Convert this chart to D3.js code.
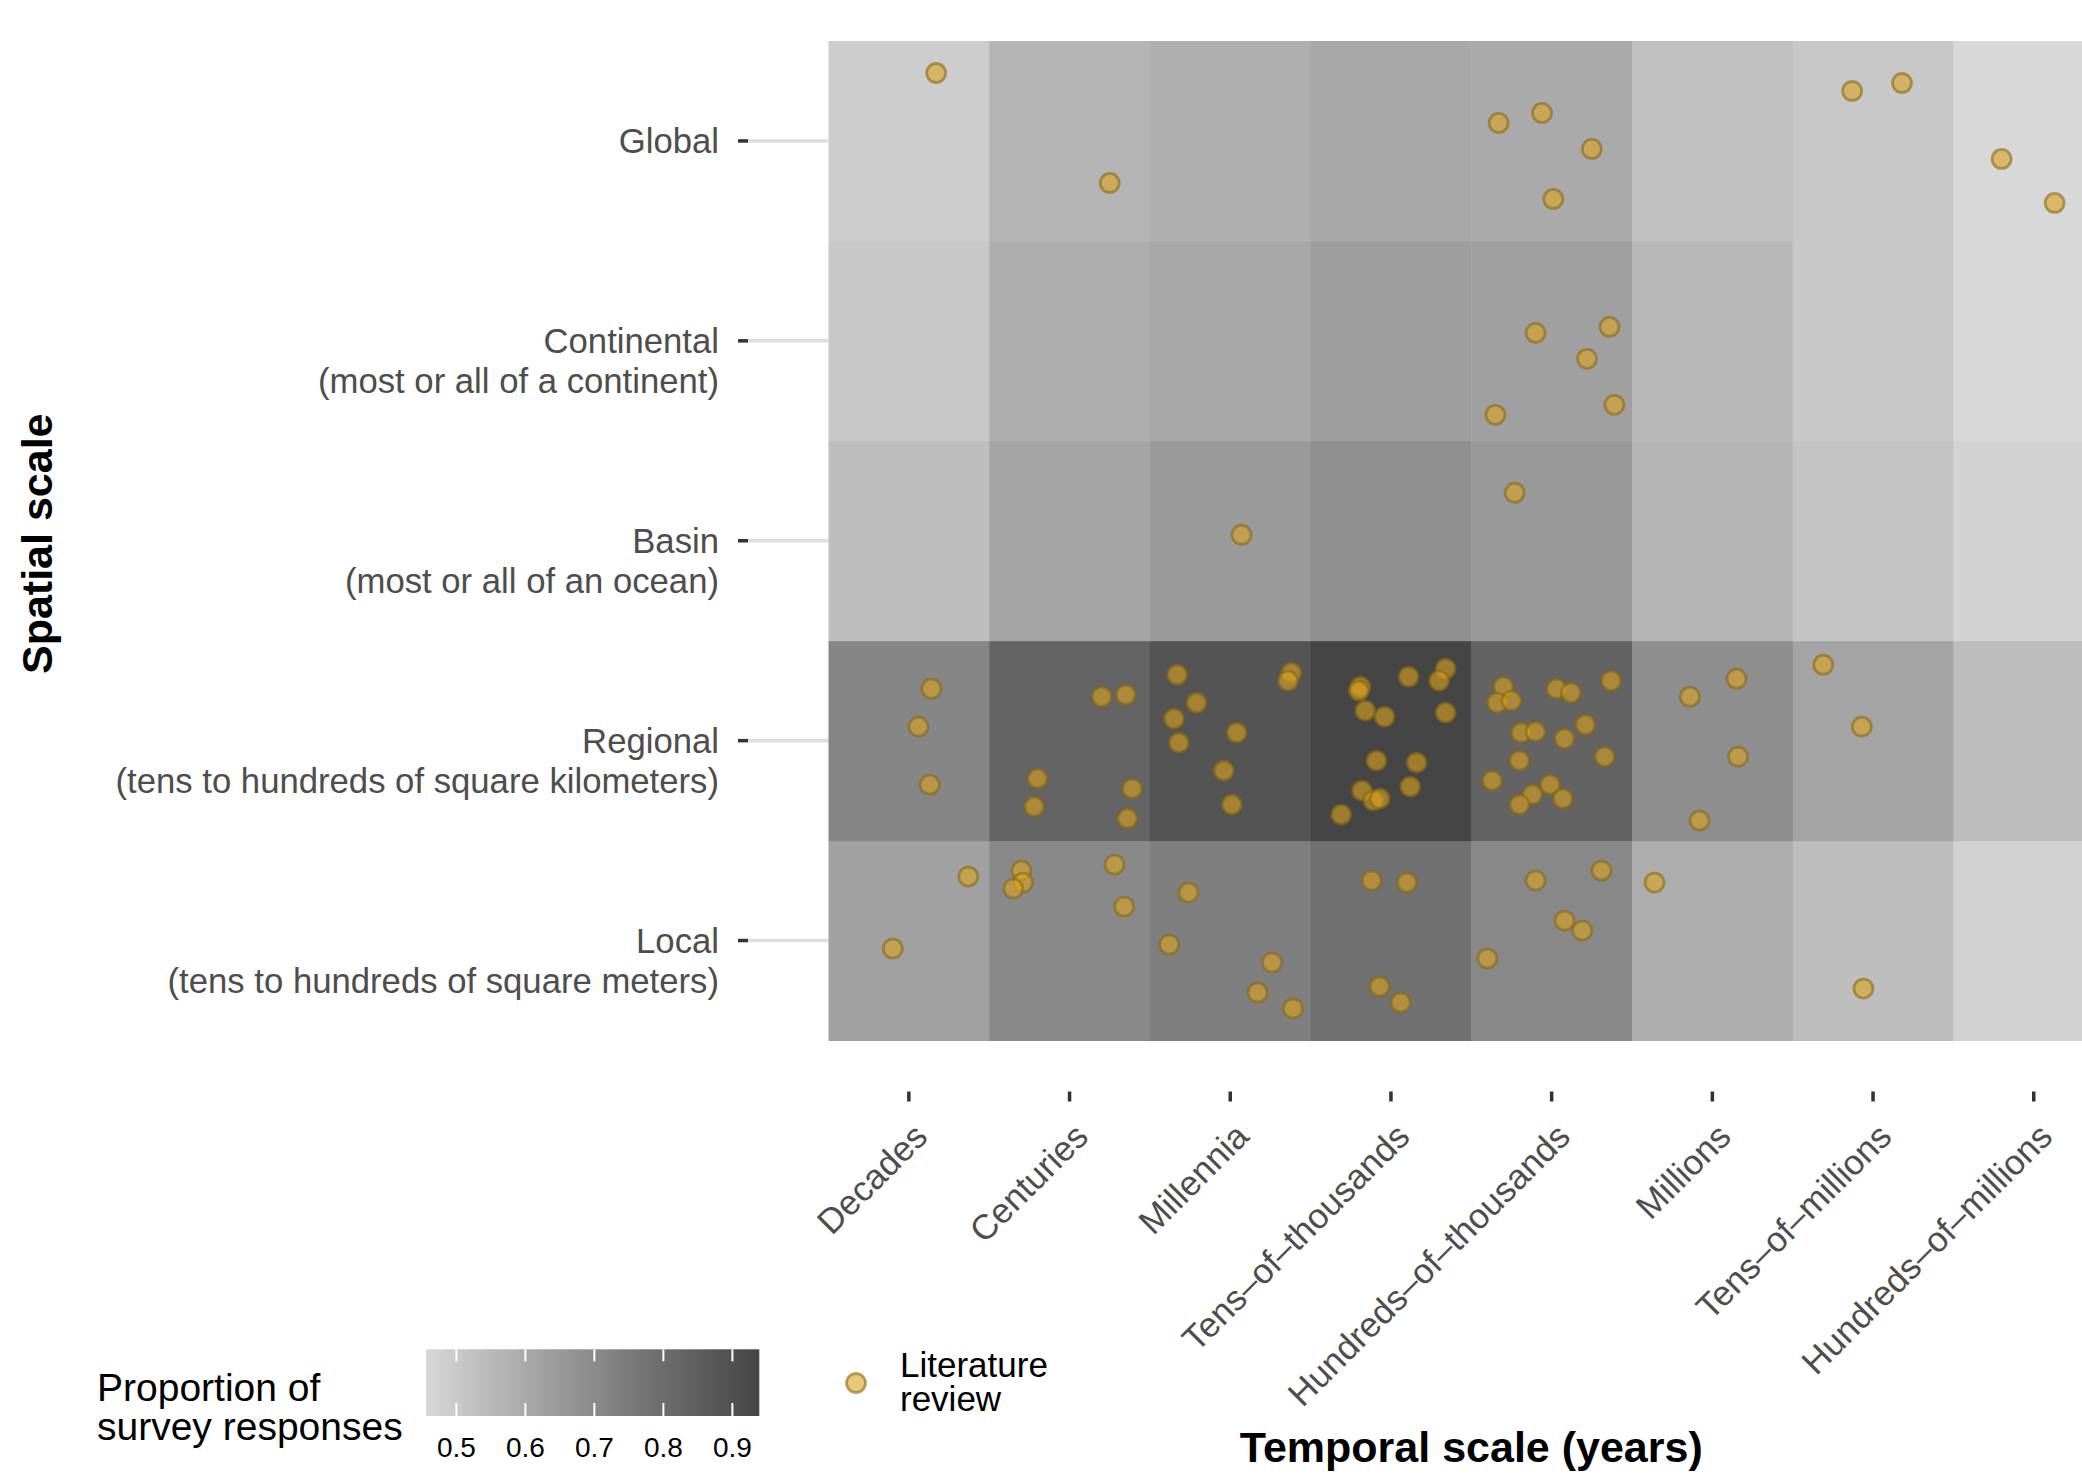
<!DOCTYPE html>
<html>
<head>
<meta charset="utf-8">
<script src="https://cdn.jsdelivr.net/npm/d3@7"></script>
<style>
  body { margin: 0; background: #fff; }
  text { font-family: "Liberation Sans", Arial, sans-serif; }
</style>
</head>
<body>
<div class="svg-container"></div>
<script>
var temporalScales = ['Decades', 'Centuries', 'Millennia', 'Tens–of–thousands',
  'Hundreds–of–thousands', 'Millions', 'Tens–of–millions', 'Hundreds–of–millions'];
var spatialScales = ['Local', 'Regional', 'Basin', 'Continental', 'Global'];
var spatialNotes = ['(tens to hundreds of square meters)', '(tens to hundreds of square kilometers)',
  '(most or all of an ocean)', '(most or all of a continent)', ''];

// proportion of survey responses, one array per spatial scale (temporal order)
var propLocal       = [0.626, 0.703, 0.736, 0.783, 0.707, 0.588, 0.535, 0.473];
var propRegional    = [0.713, 0.828, 0.885, 0.939, 0.831, 0.687, 0.616, 0.535];
var propBasin       = [0.535, 0.613, 0.648, 0.684, 0.651, 0.563, 0.516, 0.470];
var propContinental = [0.504, 0.584, 0.603, 0.635, 0.629, 0.553, 0.504, 0.456];
var propGlobal      = [0.490, 0.566, 0.578, 0.603, 0.597, 0.529, 0.504, 0.456];

// literature review studies, jittered positions (1 = Decades / Local)
var litTemporal = [
  1.17, 2.25, 3.07, 4.67, 4.94, 5.25, 5.01, 6.87, 7.18, 7.80, 8.13,
  4.90, 5.36, 5.22, 5.39, 4.65, 4.77,
  1.14, 1.06, 1.13, 2.20, 2.35, 1.80, 1.78, 2.39, 2.36,
  2.67, 2.79, 2.65, 2.68, 3.04, 2.96, 3.01, 3.38, 3.36,
  3.81, 3.80, 4.11, 4.34, 4.30, 3.84, 3.96, 4.34, 3.91, 4.16, 3.82, 3.89, 3.93, 4.12, 3.69,
  4.70, 4.66, 4.75, 5.03, 5.12, 5.37, 5.21, 4.81, 4.90, 5.08, 5.33, 4.80, 4.63, 4.99, 4.88, 4.80, 5.07,
  6.15, 5.86, 6.16, 5.92, 6.69, 6.93,
  1.37, 0.90, 1.70, 1.71, 1.65, 2.28, 2.34, 2.74, 2.62, 3.26, 3.17, 3.39,
  3.88, 4.10, 3.93, 4.06, 4.90, 5.31, 5.08, 5.19, 4.60, 5.64, 6.94
];
var litSpatial = [
  5.34, 4.79, 3.03, 5.09, 5.14, 4.96, 4.71, 5.25, 5.29, 4.91, 4.69,
  4.04, 4.07, 3.91, 3.68, 3.63, 3.24,
  2.26, 2.07, 1.78, 2.22, 2.23, 1.81, 1.67, 1.76, 1.61,
  2.33, 2.19, 2.11, 1.99, 2.04, 1.85, 1.68, 2.34, 2.30,
  2.27, 2.25, 2.32, 2.36, 2.30, 2.15, 2.12, 2.14, 1.90, 1.89, 1.75, 1.70, 1.71, 1.77, 1.63,
  2.27, 2.19, 2.20, 2.26, 2.24, 2.30, 2.08, 2.04, 2.045, 2.01, 1.92, 1.90, 1.80, 1.78, 1.73, 1.68, 1.71,
  2.31, 2.22, 1.92, 1.60, 2.38, 2.07,
  1.32, 0.96, 1.35, 1.29, 1.26, 1.38, 1.17, 1.24, 0.98, 0.89, 0.74, 0.66,
  1.30, 1.29, 0.77, 0.69, 1.30, 1.35, 1.10, 1.05, 0.91, 1.29, 0.76
];

var legendBreaks = [0.5, 0.6, 0.7, 0.8, 0.9];

var propRows = [propLocal, propRegional, propBasin, propContinental, propGlobal];
var tiles = [];
propRows.forEach(function (row, j) {
  row.forEach(function (v, i) {
    tiles.push({ temporal: temporalScales[i], spatial: spatialScales[j], value: v });
  });
});
var points = litTemporal.map(function (t, i) { return { t: t, s: litSpatial[i] }; });

var svg = d3.select('.svg-container').append('svg')
  .attr('width', 2082)
  .attr('height', 1478);

var panelLeft = 828.5, panelRight = 2114.1, panelTop = 41, panelBottom = 1040.5;

var xBand = d3.scaleBand().domain(temporalScales).range([panelLeft, panelRight]);
var yBand = d3.scaleBand().domain(spatialScales).range([panelBottom, panelTop]);
var x = d3.scaleLinear().domain([0.5, temporalScales.length + 0.5]).range([panelLeft, panelRight]);
var y = d3.scaleLinear().domain([0.5, spatialScales.length + 0.5]).range([panelBottom, panelTop]);

var valueExtent = d3.extent(tiles, function (d) { return d.value; });
var colorScale = d3.scaleLinear()
  .domain(valueExtent)
  .range(['#d8d8d8', '#454545'])
  .interpolate(d3.interpolateLab);

// grey guide lines from y ticks to the panel
svg.selectAll('.guide')
  .data(spatialScales)
  .enter()
  .append('line')
  .attr('class', 'guide')
  .attr('x1', 748).attr('x2', panelLeft)
  .attr('y1', function (d) { return yBand(d) + yBand.bandwidth() / 2; })
  .attr('y2', function (d) { return yBand(d) + yBand.bandwidth() / 2; })
  .style('stroke', '#dedede')
  .style('stroke-width', 3.5);

svg.selectAll('.tile')
  .data(tiles)
  .enter()
  .append('rect')
  .attr('class', 'tile')
  .attr('x', function (d) { return xBand(d.temporal); })
  .attr('y', function (d) { return yBand(d.spatial); })
  .attr('width', xBand.bandwidth() + 0.5)
  .attr('height', yBand.bandwidth() + 0.5)
  .style('fill', function (d) { return colorScale(d.value); });

svg.selectAll('.lit')
  .data(points)
  .enter()
  .append('circle')
  .attr('class', 'lit')
  .attr('cx', function (d) { return x(d.t); })
  .attr('cy', function (d) { return y(d.s); })
  .attr('r', 9.5)
  .style('fill', '#daa520')
  .style('fill-opacity', 0.6)
  .style('stroke', '#8b6914')
  .style('stroke-opacity', 0.6)
  .style('stroke-width', 2.8);

// x axis
var xAxis = svg.append('g')
  .attr('transform', 'translate(0,1091.5)')
  .call(d3.axisBottom(xBand).tickSize(10).tickSizeOuter(0));
xAxis.select('.domain').remove();
xAxis.selectAll('line').style('stroke', '#333').style('stroke-width', 3.5);
xAxis.selectAll('text')
  .attr('x', 0).attr('y', 0).attr('dy', '0.71em')
  .attr('transform', 'translate(3,29.5) rotate(-45)')
  .style('text-anchor', 'end')
  .style('font-size', '35px')
  .style('fill', '#4d4d4d');

// y axis
var yAxis = svg.append('g')
  .attr('transform', 'translate(748,0)')
  .call(d3.axisLeft(yBand).tickSize(10).tickSizeOuter(0));
yAxis.select('.domain').remove();
yAxis.selectAll('line').style('stroke', '#333').style('stroke-width', 3.5);
yAxis.selectAll('.tick text').remove();
yAxis.selectAll('.tick').each(function (d) {
  d3.select(this).append('text')
    .attr('x', -29)
    .attr('dy', '0.36em')
    .style('text-anchor', 'end')
    .style('font-size', '34.7px')
    .style('fill', '#4d4d4d')
    .text(d);
  var note = spatialNotes[spatialScales.indexOf(d)];
  if (note) {
    d3.select(this).append('text')
      .attr('x', -29)
      .attr('y', 40)
      .attr('dy', '0.36em')
      .style('text-anchor', 'end')
      .style('font-size', '34.7px')
      .style('fill', '#4d4d4d')
      .text(note);
  }
});

// axis titles
svg.append('text')
  .attr('x', (panelLeft + panelRight) / 2)
  .attr('y', 1462)
  .style('text-anchor', 'middle')
  .style('font-size', '43px')
  .style('font-weight', 'bold')
  .text('Temporal scale (years)');

svg.append('text')
  .attr('transform', 'translate(52,' + ((panelTop + panelBottom) / 2 + 3) + ') rotate(-90)')
  .style('text-anchor', 'middle')
  .style('font-size', '43px')
  .style('font-weight', 'bold')
  .text('Spatial scale');

// colour bar legend
svg.append('text')
  .attr('x', 97).attr('y', 1401)
  .style('font-size', '39px')
  .text('Proportion of');
svg.append('text')
  .attr('x', 97).attr('y', 1440)
  .style('font-size', '39px')
  .text('survey responses');

var cbX = d3.scaleLinear().domain(valueExtent).range([426, 759.3]);
var cbTop = 1349.3, cbBottom = 1416;

var grad = svg.append('defs').append('linearGradient')
  .attr('id', 'cbGrad')
  .attr('x1', '0%').attr('x2', '100%');
grad.selectAll('stop')
  .data(d3.range(0, 1.0001, 0.05))
  .enter()
  .append('stop')
  .attr('offset', function (d) { return (d * 100) + '%'; })
  .attr('stop-color', function (d) {
    return colorScale(valueExtent[0] + d * (valueExtent[1] - valueExtent[0]));
  });

svg.append('rect')
  .attr('x', cbX.range()[0]).attr('y', cbTop)
  .attr('width', cbX.range()[1] - cbX.range()[0])
  .attr('height', cbBottom - cbTop)
  .style('fill', 'url(#cbGrad)');

var cbTicks = svg.selectAll('.cbtick')
  .data(legendBreaks)
  .enter()
  .append('g')
  .attr('class', 'cbtick')
  .attr('transform', function (d) { return 'translate(' + cbX(d) + ',0)'; });
cbTicks.append('line')
  .attr('y1', cbTop).attr('y2', cbTop + 12)
  .style('stroke', '#fff').style('stroke-width', 2);
cbTicks.append('line')
  .attr('y1', cbBottom - 13).attr('y2', cbBottom)
  .style('stroke', '#fff').style('stroke-width', 2);
cbTicks.append('text')
  .attr('y', 1456.5)
  .style('text-anchor', 'middle')
  .style('font-size', '28px')
  .text(function (d) { return d3.format('.1f')(d); });

// literature legend
svg.append('circle')
  .attr('cx', 856).attr('cy', 1383)
  .attr('r', 9.5)
  .style('fill', '#daa520')
  .style('fill-opacity', 0.6)
  .style('stroke', '#8b6914')
  .style('stroke-opacity', 0.6)
  .style('stroke-width', 2.8);
svg.append('text')
  .attr('x', 900).attr('y', 1377)
  .style('font-size', '35px')
  .text('Literature');
svg.append('text')
  .attr('x', 900).attr('y', 1411)
  .style('font-size', '35px')
  .text('review');
</script>
</body>
</html>
